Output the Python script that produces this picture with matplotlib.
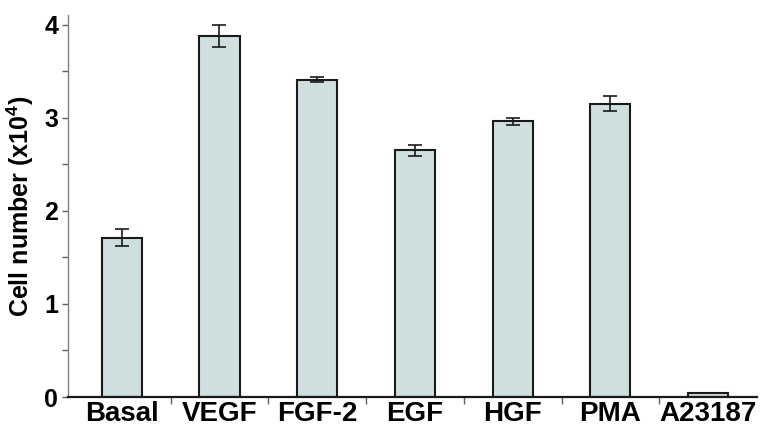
import numpy as np
import matplotlib.pyplot as plt

plt.rcParams['font.family'] = ['Liberation Sans', 'DejaVu Sans']

categories = ['Basal', 'VEGF', 'FGF-2', 'EGF', 'HGF', 'PMA', 'A23187']
cell_number = [1.71, 3.88, 3.41, 2.65, 2.96, 3.15, 0.04]
errors = [0.09, 0.12, 0.03, 0.06, 0.04, 0.08, 0.0]

fig = plt.figure(figsize=(7.6, 4.26), dpi=100)
ax = fig.add_axes([0.0895, 0.068, 0.9065, 0.896])

x = np.arange(len(categories))
ax.bar(x, cell_number, width=0.41, color='#cfdfdf', edgecolor='#1a1a1a',
       linewidth=1.5, zorder=2)
has_err = [e > 0 for e in errors]
ax.errorbar(x[has_err], np.array(cell_number)[has_err], yerr=np.array(errors)[has_err],
            fmt='none', ecolor='#1a1a1a', elinewidth=1.2, capsize=5, capthick=1.2,
            zorder=3, clip_on=False)

ax.set_xlim(-0.55, 6.5)
ax.set_ylim(0, 4.1)

ax.spines['top'].set_visible(False)
ax.spines['right'].set_visible(False)
ax.spines['left'].set_color('#808080')
ax.spines['left'].set_linewidth(1.0)
ax.spines['bottom'].set_color('#1a1a1a')
ax.spines['bottom'].set_linewidth(1.6)

ax.set_yticks([0, 1, 2, 3, 4])
ax.set_yticks([0.5, 1.5, 2.5, 3.5], minor=True)
ax.tick_params(axis='y', which='both', direction='out', color='#606060',
               length=4, width=1.0, labelsize=18, pad=3)
for lab in ax.get_yticklabels():
    lab.set_fontweight('bold')

# category labels centred under bars, ticks between categories
ax.set_xticks(x)
ax.set_xticklabels(categories, fontsize=20, fontweight='bold')
ax.tick_params(axis='x', which='major', length=0, pad=3)
ax.set_xticks(np.arange(0.5, 6, 1), minor=True)
ax.tick_params(axis='x', which='minor', direction='out', length=5, width=1.0,
               color='#606060')

ax.set_ylabel('Cell number (x10$^\\mathregular{4}$)', fontsize=18,
              fontweight='bold', labelpad=6)

plt.savefig('out.png', dpi=100, facecolor='white')
